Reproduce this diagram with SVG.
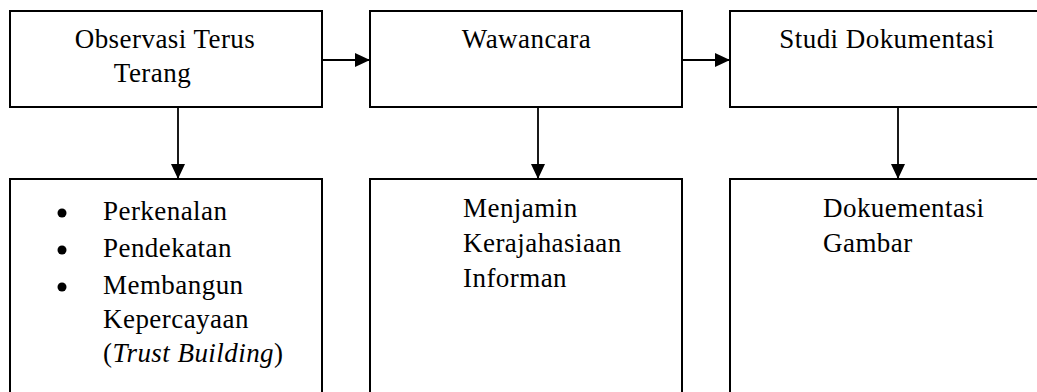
<svg xmlns="http://www.w3.org/2000/svg" width="1037" height="392" viewBox="0 0 1037 392">
<style>
.box{fill:#fff;stroke:#000;stroke-width:2}
.con{stroke:#000;stroke-width:1.8;fill:none}
.t{font-family:"Liberation Serif","Times New Roman",serif;font-size:27px;letter-spacing:0.45px;fill:#000}
.c{text-anchor:middle}
.i{font-style:italic}
</style>
<defs>
<marker id="ah" viewBox="0 0 15 14" refX="15" refY="7" markerWidth="15" markerHeight="14" markerUnits="userSpaceOnUse" orient="auto">
<path d="M0,0 L15,7 L0,14 Z" fill="#000"/>
</marker>
</defs>
<rect width="1037" height="392" fill="#fff"/>
<g id="connectors">
<line class="con" x1="322" y1="60" x2="370" y2="60" marker-end="url(#ah)"/>
<line class="con" x1="682" y1="60" x2="730" y2="60" marker-end="url(#ah)"/>
<line class="con" x1="178" y1="107" x2="178" y2="179" marker-end="url(#ah)"/>
<line class="con" x1="538" y1="107" x2="538" y2="179" marker-end="url(#ah)"/>
<line class="con" x1="898" y1="107" x2="898" y2="179" marker-end="url(#ah)"/>
</g>
<g id="observasi">
<rect class="box" x="10" y="11" width="312" height="96"/>
<text class="t c" x="165" y="48">Observasi Terus</text>
<text class="t c" x="152.5" y="82">Terang</text>
</g>
<g id="wawancara">
<rect class="box" x="370" y="11" width="312" height="96"/>
<text class="t c" x="526.5" y="48">Wawancara</text>
</g>
<g id="studi">
<rect class="box" x="730" y="11" width="330" height="96"/>
<text class="t c" x="887" y="48">Studi Dokumentasi</text>
</g>
<g id="langkah-observasi">
<rect class="box" x="10" y="179" width="312" height="230"/>
<circle cx="62" cy="213" r="4.5"/>
<circle cx="62" cy="250" r="4.5"/>
<circle cx="62" cy="287" r="4.5"/>
<text class="t" x="103" y="220">Perkenalan</text>
<text class="t" x="103" y="257">Pendekatan</text>
<text class="t" x="103" y="294">Membangun</text>
<text class="t" x="103" y="328">Kepercayaan</text>
<text class="t" x="103" y="362">(<tspan class="i">Trust Building</tspan>)</text>
</g>
<g id="langkah-wawancara">
<rect class="box" x="370" y="179" width="312" height="230"/>
<text class="t" x="463" y="217">Menjamin</text>
<text class="t" x="463" y="252">Kerajahasiaan</text>
<text class="t" x="463" y="287">Informan</text>
</g>
<g id="langkah-studi">
<rect class="box" x="730" y="179" width="330" height="230"/>
<text class="t" x="823" y="217">Dokuementasi</text>
<text class="t" x="823" y="252">Gambar</text>
</g>
</svg>
